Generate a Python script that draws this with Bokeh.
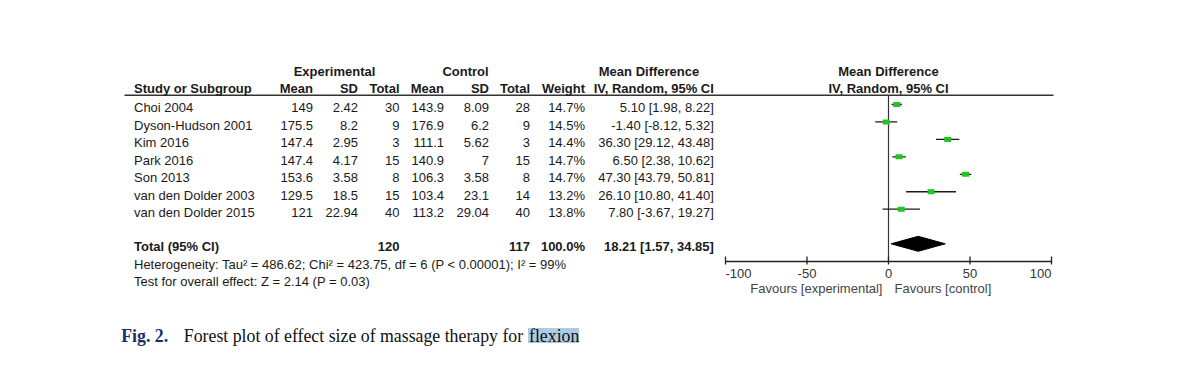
from bokeh.plotting import figure
from bokeh.models import Range1d
from bokeh.embed import file_html
from bokeh.resources import INLINE
from bokeh.core.properties import value

# ---------------- data ----------------
studies = ["Choi 2004", "Dyson-Hudson 2001", "Kim 2016", "Park 2016", "Son 2013",
           "van den Dolder 2003", "van den Dolder 2015"]
exp_mean = [149, 175.5, 147.4, 147.4, 153.6, 129.5, 121]
exp_sd = [2.42, 8.2, 2.95, 4.17, 3.58, 18.5, 22.94]
exp_n = [30, 9, 3, 15, 8, 15, 40]
ctl_mean = [143.9, 176.9, 111.1, 140.9, 106.3, 103.4, 113.2]
ctl_sd = [8.09, 6.2, 5.62, 7, 3.58, 23.1, 29.04]
ctl_n = [28, 9, 3, 15, 8, 14, 40]
weight = [14.7, 14.5, 14.4, 14.7, 14.7, 13.2, 13.8]
md_est = [5.10, -1.40, 36.30, 6.50, 47.30, 26.10, 7.80]
md_lo = [1.98, -8.12, 29.12, 2.38, 43.79, 10.80, -3.67]
md_hi = [8.22, 5.32, 43.48, 10.62, 50.81, 41.40, 19.27]

total_exp_n = 120
total_ctl_n = 117
total_weight = 100.0
pooled_est = 18.21
pooled_lo = 1.57
pooled_hi = 34.85
tau2 = 486.62
chi2 = 423.75
df = 6
p_het = "< 0.00001"
i2 = 99
z_val = 2.14
p_val = 0.03

axis_ticks = [-100, -50, 0, 50, 100]
fav_labels = ["Favours [experimental]", "Favours [control]"]

# ---------------- layout constants (page pixels) ----------------
W, H = 1192, 357
ZERO_PX = 888.0
PX_PER_UNIT = 1.63
AXIS_Y = 261
ROW0 = 107.3
STEP = 17.45
TXT = "#1a1a1a"
FONT = "Liberation Sans"
SERIF = "Liberation Serif"


def to_md(px):
    return (px - ZERO_PX) / PX_PER_UNIT


p = figure(width=W, height=H, x_range=Range1d(0, W), y_range=Range1d(H, 0),
           output_backend="svg", toolbar_location=None, x_axis_location=None,
           y_axis_location=None, min_border=0, outline_line_color=None)
p.xgrid.grid_line_color = None
p.ygrid.grid_line_color = None
p.extra_x_ranges = {"md": Range1d(to_md(0), to_md(W))}


def txt(xs, ys, texts, align="left", bold=False, size="13px", color=TXT, font=FONT,
        rng="default"):
    p.text(x=xs, y=ys, text=texts, text_align=align, text_baseline="middle",
           text_font=value(font), text_font_size=size,
           text_font_style="bold" if bold else "normal", text_color=color,
           x_range_name=rng)


def fmt(v):
    return f"{v:g}"


n = len(studies)
row_y = [ROW0 + STEP * i for i in range(n)]
total_y = 246.0

# header line
p.segment(x0=[124], y0=[94.8], x1=[1053], y1=[94.8], line_color="#333333", line_width=1.5)

# headers
txt([334, 465, 648.5], [71] * 3, ["Experimental", "Control", "Mean Difference"],
    align="center", bold=True)
txt([133.5], [88.3], ["Study or Subgroup"], bold=True)
hdr_x = [312.5, 357.5, 399, 443.5, 488.5, 529.5, 584.5, 713.3]
txt(hdr_x, [88.3] * 8,
    ["Mean", "SD", "Total", "Mean", "SD", "Total", "Weight", "IV, Random, 95% CI"],
    align="right", bold=True)
txt([0, 0], [71, 88.3], ["Mean Difference", "IV, Random, 95% CI"], align="center",
    bold=True, rng="md")

# study rows
txt([133.5] * n, row_y, studies)
txt([312.5] * n, row_y, [fmt(v) for v in exp_mean], align="right")
txt([357.5] * n, row_y, [fmt(v) for v in exp_sd], align="right")
txt([399] * n, row_y, [fmt(v) for v in exp_n], align="right")
txt([443.5] * n, row_y, [fmt(v) for v in ctl_mean], align="right")
txt([488.5] * n, row_y, [fmt(v) for v in ctl_sd], align="right")
txt([529.5] * n, row_y, [fmt(v) for v in ctl_n], align="right")
txt([584.5] * n, row_y, [f"{w:.1f}%" for w in weight], align="right")
txt([713.3] * n, row_y,
    [f"{e:.2f} [{l:.2f}, {h:.2f}]" for e, l, h in zip(md_est, md_lo, md_hi)], align="right")

# total row
txt([133.5], [total_y], ["Total (95% CI)"], bold=True)
txt([399, 529.5, 584.5, 713.3], [total_y] * 4,
    [str(total_exp_n), str(total_ctl_n), f"{total_weight:.1f}%",
     f"{pooled_est:.2f} [{pooled_lo:.2f}, {pooled_hi:.2f}]"], align="right", bold=True)

het = (f"Heterogeneity: Tau\u00b2 = {tau2:.2f}; Chi\u00b2 = {chi2:.2f}, df = {df} "
       f"(P {p_het}); I\u00b2 = {i2}%")
test = f"Test for overall effect: Z = {z_val:.2f} (P = {p_val:.2f})"
txt([133.5], [264], [het])
txt([133.5], [280.7], [test])

# ---------------- forest ----------------
p.segment(x0=[0], y0=[94.8], x1=[0], y1=[AXIS_Y], line_color="#333333", line_width=1.2,
          x_range_name="md")

mark_y = [y - 3.3 for y in row_y]
p.segment(x0=md_lo, y0=mark_y, x1=md_hi, y1=mark_y, line_color="#1a1a1a", line_width=1.3,
          x_range_name="md")
p.rect(x=md_est, y=mark_y, width=7, height=5, width_units="screen", height_units="screen",
       fill_color="#22c322", line_color=None, x_range_name="md")

dy = total_y - 2.7
half_h = 7.5
p.patch(x=[pooled_lo, pooled_est, pooled_hi, pooled_est],
        y=[dy, dy - half_h, dy, dy + half_h], fill_color="black", line_color="black",
        x_range_name="md")

# axis (drawn at the bottom of the forest panel)
nt = len(axis_ticks)
p.segment(x0=[axis_ticks[0]], y0=[AXIS_Y], x1=[axis_ticks[-1]], y1=[AXIS_Y],
          line_color="#222222", line_width=1.3, x_range_name="md")
p.segment(x0=axis_ticks, y0=[AXIS_Y - 5] * nt, x1=axis_ticks, y1=[AXIS_Y + 3] * nt,
          line_color="#222222", line_width=1.3, x_range_name="md")
txt([axis_ticks[0]], [273], [str(axis_ticks[0])], align="left", color="#333333", rng="md")
txt(axis_ticks[1:-1], [273] * (nt - 2), [str(t) for t in axis_ticks[1:-1]], align="center",
    color="#333333", rng="md")
txt([axis_ticks[-1]], [273], [str(axis_ticks[-1])], align="right", color="#333333", rng="md")
txt([-3.7], [288.3], [fav_labels[0]], align="right", color="#444444", rng="md")
txt([3.7], [288.3], [fav_labels[1]], align="left", color="#444444", rng="md")

# caption
p.quad(left=[527.5], right=[578.5], bottom=[342.5], top=[327.5],
       fill_color="#aecbe3", line_color=None)
txt([120.7], [335], ["Fig. 2."], bold=True, size="17.8px", color="#1b2f6b", font=SERIF)
txt([183.3], [335], ["Forest plot of effect size of massage therapy for"],
    size="17.8px", color="#111111", font=SERIF)
txt([528.5], [335], ["flexion"], size="17.8px", color="#111111", font=SERIF)

open("out.html", "w").write(file_html(p, INLINE))
